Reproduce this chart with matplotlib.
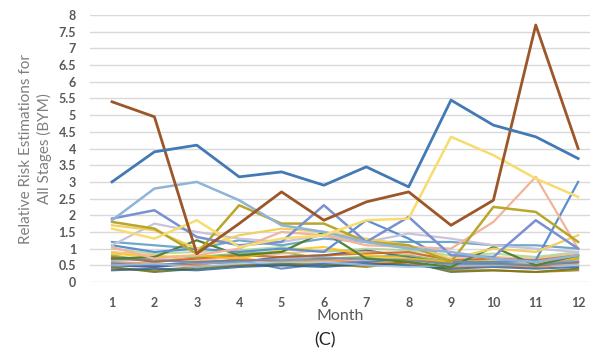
import numpy as np
import matplotlib
matplotlib.use("Agg")
import matplotlib.pyplot as plt

months = list(range(1, 13))

# main visible series
blue = [3.0, 3.9, 4.1, 3.15, 3.3, 2.9, 3.45, 2.85, 5.45, 4.7, 4.35, 3.7]
brown = [5.4, 4.95, 0.85, 1.75, 2.7, 1.85, 2.4, 2.7, 1.7, 2.45, 7.7, 4.0]
yellow = [1.6, 1.3, 1.85, 1.05, 1.3, 1.4, 1.85, 1.9, 4.35, 3.8, 3.1, 2.55]
light_blue = [1.85, 2.8, 3.0, 2.45, 1.7, 1.5, 1.2, 1.0, 0.9, 0.7, 0.6, 0.8]
periwinkle = [1.9, 2.15, 1.35, 1.1, 1.2, 2.3, 1.2, 1.95, 0.8, 0.75, 1.85, 1.0]
olive = [1.8, 1.6, 0.85, 2.3, 1.75, 1.75, 1.2, 1.1, 0.6, 2.25, 2.1, 1.2]
salmon = [1.05, 0.7, 0.8, 1.0, 1.5, 1.4, 1.1, 1.05, 1.0, 1.8, 3.15, 1.0]
lilac = [1.1, 1.75, 1.5, 1.3, 1.2, 1.4, 1.2, 1.45, 1.3, 1.1, 1.0, 0.9]
mid_blue = [1.1, 0.9, 1.0, 0.9, 1.0, 0.9, 1.85, 1.3, 0.6, 0.6, 0.65, 3.0]
dark_green = [0.7, 0.75, 1.25, 0.8, 0.9, 1.5, 0.7, 0.6, 0.45, 1.05, 0.5, 0.8]
aqua = [1.2, 1.1, 1.0, 1.25, 1.1, 1.3, 1.2, 1.2, 1.2, 1.1, 1.1, 1.0]
gold = [1.7, 1.55, 1.0, 1.4, 1.6, 1.5, 1.3, 1.1, 0.7, 1.0, 0.9, 1.4]

# tangle of low series
low = [
    [0.5, 0.45, 0.55, 0.6, 0.75, 0.8, 0.95, 0.75, 0.55, 0.6, 0.5, 0.7],
    [0.45, 0.3, 0.4, 0.5, 0.55, 0.5, 0.5, 0.6, 0.3, 0.35, 0.3, 0.4],
    [0.6, 0.55, 0.5, 0.7, 0.6, 0.65, 0.6, 0.55, 0.45, 0.5, 0.45, 0.55],
    [0.4, 0.35, 0.45, 0.5, 0.5, 0.55, 0.45, 0.6, 0.35, 0.35, 0.3, 0.35],
    [0.8, 0.6, 0.75, 0.85, 0.9, 0.7, 0.75, 0.8, 0.6, 0.7, 0.6, 0.75],
    [0.55, 0.5, 0.6, 0.65, 0.4, 0.55, 0.6, 0.7, 0.5, 0.55, 0.5, 0.6],
    [0.9, 0.8, 0.65, 0.75, 0.85, 0.95, 0.9, 0.85, 0.7, 0.75, 0.7, 0.85],
    [0.35, 0.4, 0.35, 0.45, 0.5, 0.45, 0.55, 0.5, 0.4, 0.45, 0.4, 0.45],
    [1.0, 0.85, 0.9, 0.95, 1.05, 0.9, 1.0, 0.95, 0.8, 0.85, 0.75, 0.9],
    [0.65, 0.7, 0.55, 0.6, 0.7, 0.75, 0.65, 0.7, 0.55, 0.6, 0.55, 0.65],
    [0.75, 0.6, 0.7, 0.8, 0.75, 0.8, 0.85, 0.9, 0.65, 0.7, 0.65, 0.8],
    [0.5, 0.55, 0.45, 0.55, 0.6, 0.6, 0.5, 0.45, 0.5, 0.5, 0.55, 0.5],
    [0.85, 0.75, 0.8, 0.7, 0.95, 1.05, 0.8, 0.7, 0.6, 0.65, 0.6, 0.7],
    [0.7, 0.65, 0.6, 0.65, 0.65, 0.7, 0.7, 0.65, 0.55, 0.55, 0.5, 0.6],
]
low_colors = ["#264478", "#43682b", "#ed7d31", "#997300", "#70ad47", "#4472c4",
              "#f4b183", "#255e91", "#a9d18e", "#8faadc", "#c55a11", "#9dc3e6",
              "#ffc000", "#7f7f7f"]

plt.rcParams['font.family'] = ['Lato', 'DejaVu Sans']

fig = plt.figure(figsize=(5.93, 3.56), dpi=100)
ax = fig.add_axes([90 / 593, 1 - 282 / 356, 500 / 593, 267 / 356])

for vals, c in zip(low, low_colors):
    ax.plot(months, vals, color=c, lw=1.5, alpha=0.8)

ax.plot(months, aqua, color="#6fa8c8", lw=1.6)
ax.plot(months, dark_green, color="#548235", lw=1.6)
ax.plot(months, mid_blue, color="#5b8fd0", lw=1.6)
ax.plot(months, lilac, color="#c9c3dc", lw=1.6)
ax.plot(months, salmon, color="#f2b49a", lw=1.6)
ax.plot(months, gold, color="#f0d060", lw=1.6)
ax.plot(months, olive, color="#b9a62b", lw=1.8)
ax.plot(months, periwinkle, color="#7a90d0", lw=1.8)
ax.plot(months, light_blue, color="#8fb4d8", lw=1.8)
ax.plot(months, yellow, color="#f7dc6f", lw=1.8)
ax.plot(months, brown, color="#9c5628", lw=2.0)
ax.plot(months, blue, color="#4379b4", lw=2.0)

ax.set_xlim(0.48, 12.28)
ax.set_ylim(0, 8)
ax.set_yticks(np.arange(0, 8.5, 0.5))
ax.set_yticklabels([f"{v:g}" for v in np.arange(0, 8.5, 0.5)])
ax.set_xticks(months)
ax.grid(axis="y", color="#d9d9d9", lw=1)
ax.set_axisbelow(True)
for s in ax.spines.values():
    s.set_visible(False)
ax.tick_params(axis="both", length=0, colors="#595959", labelsize=9)
ax.tick_params(axis="x", pad=11)
ax.tick_params(axis="y", pad=10)
for lab in ax.get_xticklabels() + ax.get_yticklabels():
    lab.set_fontweight("bold")

ax.set_xlabel("Month", color="#595959", fontsize=11.5, labelpad=0)
ax.set_ylabel("Relative Risk Estimations for\nAll Stages (BYM)", color="#7f7f7f",
              fontsize=11, labelpad=5, linespacing=1.25)

fig.text(325 / 593, 1 - 340 / 356, "(C)", ha="center", va="center", fontsize=13, color="#222222")

fig.savefig("out.png", dpi=100)
